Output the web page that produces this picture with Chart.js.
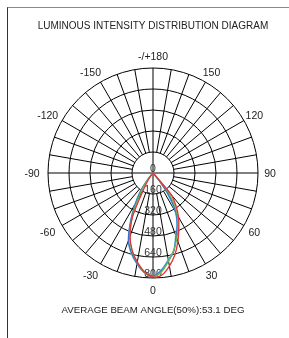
<!DOCTYPE html>
<html>
<head>
<meta charset="utf-8">
<script src="https://cdn.jsdelivr.net/npm/chart.js@4"></script>
<style>
  html, body { margin: 0; padding: 0; background: #fff; }
  #frame {
    position: absolute; left: 7px; top: 7px; width: 300px; height: 340px;
    border-left: 1px solid #333; border-top: 1px solid #888;
  }
  #chart { position: absolute; left: 0; top: 0; }
</style>
</head>
<body>
<div id="frame"></div>
<canvas id="chart" width="289" height="338"></canvas>
<script>
// angles around the diagram, clockwise from the top (deg)
const angleCategories = [
  180, 175, 170, 165, 160, 155, 150, 145, 140, 135, 130, 125,
  120, 115, 110, 105, 100, 95, 90, 85, 80, 75, 70, 65,
  60, 55, 50, 45, 40, 35, 30, 25, 20, 15, 10, 5,
  0, -5, -10, -15, -20, -25, -30, -35, -40, -45, -50, -55,
  -60, -65, -70, -75, -80, -85, -90, -95, -100, -105, -110, -115,
  -120, -125, -130, -135, -140, -145, -150, -155, -160, -165, -170, -175,
];
const angleTickLabels = [180, 150, 120, 90, 60, 30, 0, -30, -60, -90, -120, -150];
const intensityTicks = [0, 160, 320, 480, 640, 800];

// measured lobe, cd
const lobeAngles = [-45, -40, -35, -30, -25, -20, -15, -10, -5, 0, 5, 10, 15, 20, 25, 30, 35, 40, 45];
const redValues   = [0, 10, 60, 140, 370, 510, 612, 690, 755, 792, 780, 720, 645, 555, 465, 390, 305, 215, 0];
const greenValues = [0, 30, 120, 230, 380, 520, 615, 690, 760, 790, 755, 682, 610, 530, 450, 370, 270, 150, 0];
const blueValues  = [0, 50, 150, 260, 400, 545, 630, 700, 760, 785, 745, 678, 615, 515, 440, 350, 230, 80, 0];
const cyanValues  = [0, 60, 170, 275, 405, 550, 638, 705, 762, 785, 740, 670, 610, 505, 430, 340, 190, 40, 0];

const FONT = '"Liberation Sans", Arial, sans-serif';

function toSeries(values) {
  return angleCategories.map(angle => {
    const k = lobeAngles.indexOf(angle);
    return k < 0 ? 0 : values[k];
  });
}

const polarGrid = {
  id: 'polarGrid',
  beforeDatasetsDraw(chart) {
    const scale = chart.scales.r;
    const {ctx} = chart;
    const inner = scale.getDistanceFromCenterForValue(intensityTicks[1]);
    const outer = scale.getDistanceFromCenterForValue(intensityTicks[intensityTicks.length - 1]);

    ctx.save();
    ctx.strokeStyle = '#000';
    ctx.lineWidth = 1;
    angleCategories.forEach((angle, i) => {
      if (angle % 10 !== 0) return;
      const from = angle % 90 === 0 ? 0 : inner;
      const a = scale.getPointPosition(i, from);
      const b = scale.getPointPosition(i, outer);
      ctx.beginPath();
      ctx.moveTo(a.x, a.y);
      ctx.lineTo(b.x, b.y);
      ctx.stroke();
    });

    ctx.font = `10.5px ${FONT}`;
    ctx.textAlign = 'center';
    ctx.textBaseline = 'middle';

    // angle labels around the rim, minus-signed ones sit a bit further out
    ctx.fillStyle = '#222';
    angleCategories.forEach((angle, i) => {
      if (!angleTickLabels.includes(angle)) return;
      const p = scale.getPointPosition(i, outer + 12);
      const shift = angle < 0 ? -4 : 0;
      ctx.fillText(angle === 180 ? '-/+180' : String(angle), p.x + shift, p.y + 1.5);
    });

    // intensity labels run down the 0 deg axis
    const zeroIndex = angleCategories.indexOf(0);
    ctx.fillStyle = '#333';
    intensityTicks.forEach(value => {
      const p = scale.getPointPosition(zeroIndex, scale.getDistanceFromCenterForValue(value));
      ctx.fillText(String(value), p.x, p.y - 3.5);
    });
    ctx.restore();
  },
};

function lineSet(label, values, color) {
  return {
    label,
    data: toSeries(values),
    borderColor: color,
    borderWidth: 1.3,
    fill: false,
    pointRadius: 0,
    tension: 0.3,
  };
}

new Chart(document.getElementById('chart'), {
  type: 'radar',
  data: {
    labels: angleCategories,
    datasets: [
      lineSet('C0', redValues, '#e8323a'),
      lineSet('C45', greenValues, '#6cb84a'),
      lineSet('C90', blueValues, '#3b6cc8'),
      lineSet('C135', cyanValues, '#4cc0dc'),
    ],
  },
  options: {
    responsive: false,
    animation: false,
    devicePixelRatio: 1,
    layout: {padding: {left: 17, right: 0, top: 0, bottom: 0}},
    plugins: {
      legend: {display: false},
      tooltip: {enabled: false},
      title: {
        display: true,
        text: 'LUMINOUS INTENSITY DISTRIBUTION DIAGRAM',
        color: '#222',
        font: {family: FONT, size: 10, weight: 'normal'},
        padding: {top: 20, bottom: 36},
      },
      subtitle: {
        display: true,
        position: 'bottom',
        text: 'AVERAGE BEAM ANGLE(50%):53.1 DEG',
        color: '#222',
        font: {family: FONT, size: 9.7, weight: 'normal'},
        padding: {top: 25.18, bottom: 22.18},
      },
    },
    scales: {
      r: {
        min: 0,
        max: intensityTicks[intensityTicks.length - 1],
        ticks: {display: false, stepSize: intensityTicks[1] - intensityTicks[0]},
        grid: {circular: true, color: '#000', lineWidth: 1},
        angleLines: {display: false},
        pointLabels: {display: false},
      },
    },
  },
  plugins: [polarGrid],
});
</script>
</body>
</html>
